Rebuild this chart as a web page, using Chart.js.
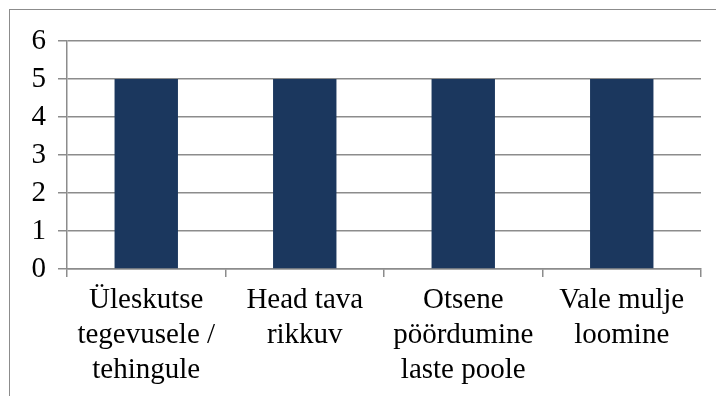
<!DOCTYPE html>
<html>
<head>
<meta charset="utf-8">
<script src="https://cdn.jsdelivr.net/npm/chart.js@4/dist/chart.umd.min.js"></script>
<style>
  html, body { margin: 0; padding: 0; background: #fff; overflow: hidden; }
  #wrap { position: relative; width: 716px; height: 396px; }
  #frame { position: absolute; left: 9px; top: 9px; width: 800px; height: 500px;
           border: 1px solid #8c8c8c; box-sizing: border-box; }
  canvas { position: absolute; left: 0; top: 0; }
</style>
</head>
<body>
<div id="wrap">
  <div id="frame"></div>
  <canvas id="c" width="716" height="396"></canvas>
</div>
<script>
// Categories (multi-line labels) and their counts
const categories = [
  ["Üleskutse", "tegevusele /", "tehingule"],
  ["Head tava", "rikkuv"],
  ["Otsene", "pöördumine", "laste poole"],
  ["Vale mulje", "loomine"]
];
const values = [5, 5, 5, 5];
const yMin = 0;
const yMax = 6;
const yStep = 1;

const xFont = { family: "'Liberation Serif', 'Times New Roman', serif", size: 29, lineHeight: 1.2 };
const yFont = { family: "'Liberation Serif', 'Times New Roman', serif", size: 29 };
const gridColor = '#8c8c8c';

new Chart(document.getElementById('c'), {
  type: 'bar',
  data: {
    labels: categories,
    datasets: [{
      data: values,
      backgroundColor: '#1b375e',
      borderWidth: 0,
      barPercentage: 0.4,
      categoryPercentage: 1.0
    }]
  },
  options: {
    responsive: false,
    animation: false,
    devicePixelRatio: 1,
    layout: { padding: { left: 0, top: 41, right: 15, bottom: 0 } },
    plugins: { legend: { display: false }, tooltip: { enabled: false } },
    scales: {
      x: {
        afterFit: s => { s.height = 127; },
        grid: { display: true, drawOnChartArea: false, drawTicks: true, tickLength: 8,
                color: gridColor, lineWidth: 1.5, offset: true },
        border: { display: true, color: gridColor, width: 1.5 },
        ticks: { color: '#000', font: xFont, padding: 6, maxRotation: 0, autoSkip: false }
      },
      y: {
        min: yMin, max: yMax,
        afterFit: s => { s.width = 67; },
        grid: { color: gridColor, lineWidth: 1.5, drawTicks: true, tickLength: 9 },
        border: { display: true, color: gridColor, width: 1.5 },
        ticks: { stepSize: yStep, color: '#000', font: yFont, padding: 12 }
      }
    }
  }
});
</script>
</body>
</html>
